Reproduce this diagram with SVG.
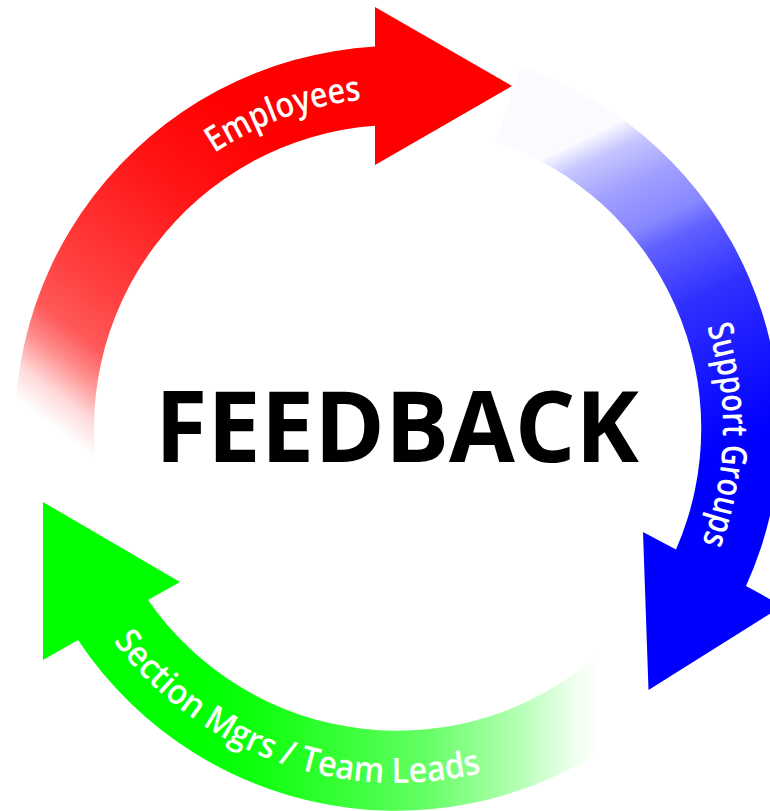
<svg xmlns="http://www.w3.org/2000/svg" width="770" height="811" viewBox="0 0 770 811">
  <style>
    .label { font-family: "Open Sans", "Liberation Sans", sans-serif; font-weight: 600; font-size: 35px; fill: #ffffff; }
    .title { font-family: "Open Sans", "Liberation Sans", sans-serif; font-weight: 700; font-size: 98px; fill: #000000; }
  </style>
  <defs>
    <!-- tail-to-head fades, one per arrow -->
    <linearGradient id="fadeRed" gradientUnits="userSpaceOnUse" x1="57" y1="430" x2="273" y2="142">
      <stop offset="0" stop-color="#ffffff"/>
      <stop offset="0.08" stop-color="#ffd9d9"/>
      <stop offset="0.17" stop-color="#ff8c8c"/>
      <stop offset="0.25" stop-color="#ff5959"/>
      <stop offset="0.39" stop-color="#ff4040"/>
      <stop offset="0.52" stop-color="#ff3030"/>
      <stop offset="0.75" stop-color="#ff1414"/>
      <stop offset="1" stop-color="#ff0000"/>
    </linearGradient>
    <linearGradient id="fadeBlue" gradientUnits="userSpaceOnUse" x1="580" y1="140" x2="726" y2="446">
      <stop offset="0" stop-color="#fbfbff"/>
      <stop offset="0.07" stop-color="#c6c6ff"/>
      <stop offset="0.18" stop-color="#a1a1ff"/>
      <stop offset="0.31" stop-color="#8787ff"/>
      <stop offset="0.38" stop-color="#6161ff"/>
      <stop offset="0.57" stop-color="#3030ff"/>
      <stop offset="0.76" stop-color="#1a1aff"/>
      <stop offset="1" stop-color="#0000ff"/>
    </linearGradient>
    <linearGradient id="fadeGreen" gradientUnits="userSpaceOnUse" x1="600" y1="0" x2="200" y2="0">
      <stop offset="0" stop-color="#ffffff"/>
      <stop offset="0.06" stop-color="#f0fff0"/>
      <stop offset="0.14" stop-color="#d0ffd0"/>
      <stop offset="0.2" stop-color="#b5ffb5"/>
      <stop offset="0.31" stop-color="#90ff90"/>
      <stop offset="0.43" stop-color="#66ff66"/>
      <stop offset="0.6" stop-color="#40ff40"/>
      <stop offset="0.85" stop-color="#10ff10"/>
      <stop offset="1" stop-color="#00ff00"/>
    </linearGradient>
    <!-- baselines for the curved labels, all centred on (397,428) -->
    <path id="pathEmployees" d="M 87.1 314.6 A 330 330 0 0 1 562.5 142.5"/>
    <path id="pathSupport" d="M 611.9 182.9 A 326 326 0 0 1 601.0 682.2"/>
    <path id="pathSection" d="M 64.2 551.5 A 355 355 0 0 0 576.4 734.3"/>
  </defs>

  <rect width="770" height="811" fill="#ffffff"/>

  <!-- the three curved arrows of the cycle -->
  <g id="connectors">
    <g id="arrow-employees">
      <path fill="url(#fadeRed)" d="M 23.35 507.4 A 382 382 0 0 1 375 46.6 L 375 7 L 512 86 L 375 165 L 375 125.8 A 303 303 0 0 0 100.6 491 Z"/>
      <text class="label"><textPath href="#pathEmployees" startOffset="50%" text-anchor="middle" textLength="158" lengthAdjust="spacingAndGlyphs">Employees</textPath></text>
    </g>
    <g id="arrow-support">
      <path fill="url(#fadeBlue)" d="M 521.4 66.8 A 382 382 0 0 1 746 586 L 782.5 606 L 648.5 690 L 643 532 L 676 549.5 A 303 303 0 0 0 495.6 141.5 Z"/>
      <text class="label"><textPath href="#pathSupport" startOffset="50%" text-anchor="middle" textLength="220" lengthAdjust="spacingAndGlyphs">Support Groups</textPath></text>
    </g>
    <g id="arrow-section">
      <path fill="url(#fadeGreen)" d="M 654.1 710.6 A 382 382 0 0 1 78 640 L 43 660 L 43 502 L 180 582 L 148 600 A 303 303 0 0 0 600.9 652.1 Z"/>
      <text class="label"><textPath href="#pathSection" startOffset="50%" text-anchor="middle" textLength="414" lengthAdjust="spacingAndGlyphs">Section Mgrs / Team Leads</textPath></text>
    </g>
  </g>

  <g id="feedback">
    <text class="title" x="397" y="462" text-anchor="middle" textLength="484" lengthAdjust="spacingAndGlyphs">FEEDBACK</text>
  </g>
</svg>
